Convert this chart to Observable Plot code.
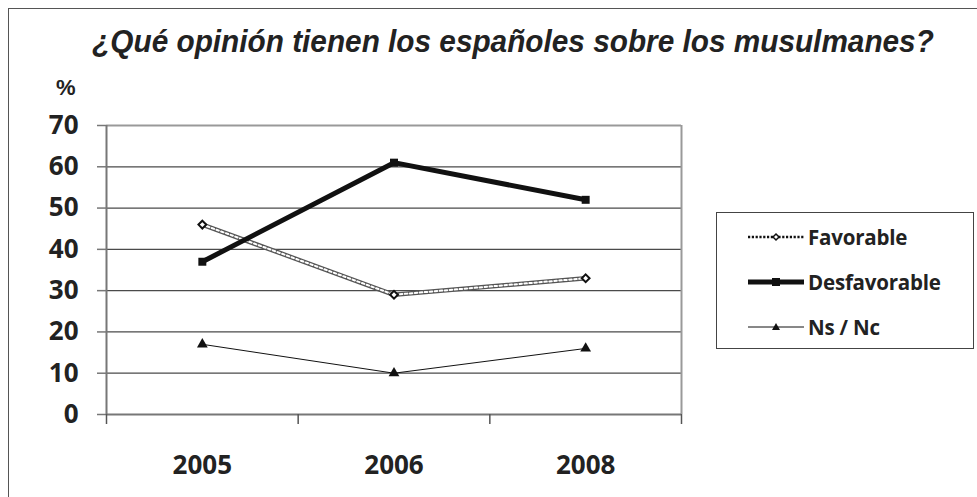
<!DOCTYPE html>
<html><head><meta charset="utf-8">
<script src="https://cdn.jsdelivr.net/npm/d3@7"></script>
<script src="https://cdn.jsdelivr.net/npm/@observablehq/plot@0.6"></script>
<style>
body{margin:0;background:#fff;}
#wrap{position:relative;width:977px;height:497px;overflow:hidden;font-family:"Open Sans",sans-serif;background:#fff;}
#frame{position:absolute;left:8px;top:8px;width:1100px;height:700px;border-left:1.5px solid #555;border-top:1.5px solid #555;}
#title{position:absolute;left:0;width:1026px;top:21px;text-align:center;font-family:"Liberation Sans Narrow","Liberation Sans",sans-serif;font-weight:bold;font-style:italic;font-size:32px;color:#222;line-height:40px;white-space:nowrap;transform:scaleX(0.93);transform-origin:513px 50%;}
#pct{position:absolute;left:56px;top:74px;font-family:"Liberation Sans Narrow","Liberation Sans",sans-serif;font-weight:bold;font-size:22px;color:#222;line-height:28px;}
#chart{position:absolute;left:0;top:0;}
#legend{position:absolute;left:716px;top:212px;width:258px;height:137px;border:1px solid #444;box-sizing:border-box;background:#fff;}
.row{position:absolute;left:31px;height:30px;display:flex;align-items:center;}
.row svg{width:56px;height:14px;margin-right:4px;}
.row span{font-weight:bold;font-size:20.5px;color:#222;letter-spacing:-0.2px;}
</style>
</head><body>
<div id="wrap">
  <div id="frame"></div>
  <div id="chart"></div>
  <div id="title">¿Qué opinión tienen los españoles sobre los musulmanes?</div>
  <div id="pct">%</div>
  <div id="legend"></div>
</div>
<script>
const years = ["2005", "2006", "2008"];
const favorable = [46, 29, 33];
const desfavorable = [37, 61, 52];
const nsnc = [17, 10, 16];
const yTicks = [0, 10, 20, 30, 40, 50, 60, 70];
const seriesNames = ["Favorable", "Desfavorable", "Ns / Nc"];

const toRows = (vals) => vals.map((v, i) => ({i, year: years[i], v}));
const fav = toRows(favorable), des = toRows(desfavorable), ns = toRows(nsnc);

const chart = Plot.plot({
  width: 977, height: 497,
  marginLeft: 106, marginRight: 296, marginTop: 125, marginBottom: 83,
  x: {type: "linear", domain: [-0.5, years.length - 0.5]},
  y: {domain: [0, 70]},
  style: {fontFamily: "'Open Sans', sans-serif", fontSize: "26px", fontWeight: "bold", color: "#222", background: "transparent", overflow: "visible"},
  marks: [
    Plot.ruleY(yTicks.filter(v => v > 0 && v < 70), {stroke: "#4a4a4a", strokeWidth: 1.2}),
    Plot.ruleY([70], {stroke: "#999", strokeWidth: 2}),
    Plot.ruleX([years.length - 0.5], {stroke: "#999", strokeWidth: 2}),
    Plot.ruleX([-0.5], {stroke: "#777", strokeWidth: 2}),
    Plot.ruleY([0], {stroke: "#777", strokeWidth: 2}),
    Plot.axisY({ticks: yTicks, tickSize: 9, tickPadding: 19, stroke: "#777", strokeWidth: 1.5, fill: "#222", label: null}),
    Plot.axisX({ticks: [-0.5, 0.5, 1.5, 2.5], tickSize: 10, tickFormat: () => "", stroke: "#555", strokeWidth: 1.5, label: null}),
    Plot.axisX({ticks: [0, 1, 2], tickSize: 0, tickPadding: 41, tickFormat: i => years[i], fill: "#222", label: null}),
    // Ns / Nc
    Plot.line(ns, {x: "i", y: "v", stroke: "#111", strokeWidth: 1}),
    Plot.dot(ns, {x: "i", y: "v", symbol: "triangle", r: 4, fill: "#111", stroke: "none"}),
    // Favorable
    Plot.line(fav, {x: "i", y: "v", stroke: "#555", strokeWidth: 4.5}),
    Plot.line(fav, {x: "i", y: "v", stroke: "#fff", strokeWidth: 2, strokeDasharray: "2.5,2.5"}),
    Plot.dot(fav, {x: "i", y: "v", symbol: "diamond2", r: 3.5, fill: "#fff", stroke: "#111", strokeWidth: 2}),
    // Desfavorable
    Plot.line(des, {x: "i", y: "v", stroke: "#111", strokeWidth: 5}),
    Plot.dot(des, {x: "i", y: "v", symbol: "square", r: 4.5, fill: "#111", stroke: "none"})
  ]
});
document.getElementById("chart").appendChild(chart);

const swatches = [
  `<line x1="0" y1="7" x2="56" y2="7" stroke="#111" stroke-width="2.5" stroke-dasharray="2.2,1.6"/><path d="M28 4 L31 7 L28 10 L25 7Z" fill="#fff" stroke="#111" stroke-width="1.5"/>`,
  `<line x1="0" y1="7" x2="56" y2="7" stroke="#111" stroke-width="5"/><rect x="24" y="3" width="8" height="8" fill="#111"/>`,
  `<line x1="0" y1="7" x2="56" y2="7" stroke="#111" stroke-width="1"/><path d="M28 3 L32 10 L24 10Z" fill="#111"/>`
];
const rowTops = [9, 54, 99];
const legend = document.getElementById("legend");
seriesNames.forEach((name, k) => {
  const row = document.createElement("div");
  row.className = "row";
  row.style.top = rowTops[k] + "px";
  row.innerHTML = `<svg viewBox="0 0 56 14">${swatches[k]}</svg><span>${name}</span>`;
  legend.appendChild(row);
});
</script>
</body></html>
